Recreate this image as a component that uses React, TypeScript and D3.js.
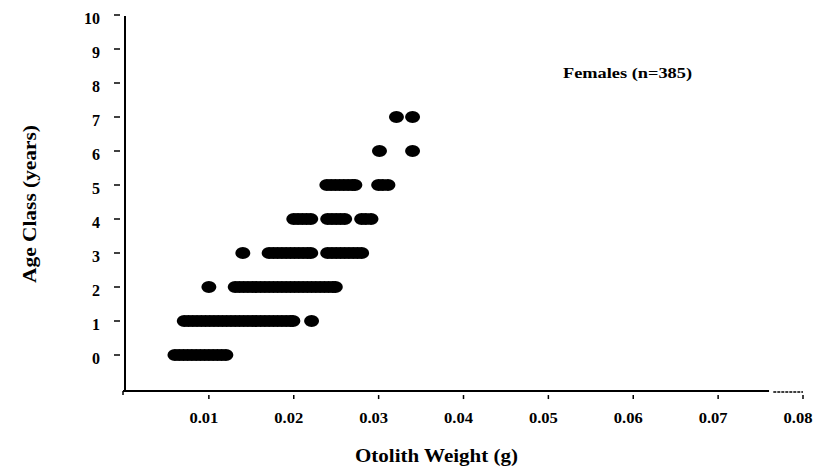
import * as d3 from "d3";

// otolith weights (g), one array per age class
const age0 = [0.006, 0.0065, 0.007, 0.0075, 0.008, 0.0085, 0.009, 0.0095, 0.01, 0.0105, 0.011, 0.0115, 0.012];
const age1 = [
  0.0071, 0.0076, 0.0081, 0.0086, 0.0091, 0.0096, 0.0101, 0.0106, 0.0111, 0.0116, 0.0121, 0.0126, 0.0131,
  0.0136, 0.0141, 0.0146, 0.0151, 0.0156, 0.0161, 0.0166, 0.0171, 0.0176, 0.0181, 0.0186, 0.0191, 0.0196,
  0.0199, 0.0221,
];
const age2 = [
  0.01, 0.0131, 0.0136, 0.0141, 0.0146, 0.0151, 0.0156, 0.0161, 0.0166, 0.0171, 0.0176, 0.0181, 0.0186,
  0.0191, 0.0196, 0.0201, 0.0206, 0.0211, 0.0216, 0.0221, 0.0226, 0.0231, 0.0236, 0.0241, 0.0246, 0.0249,
];
const age3 = [
  0.014, 0.0171, 0.0176, 0.0181, 0.0186, 0.0191, 0.0196, 0.0201, 0.0206, 0.0211, 0.0216, 0.022, 0.024,
  0.0245, 0.025, 0.0255, 0.026, 0.0265, 0.027, 0.0275, 0.028,
];
const age4 = [0.02, 0.0205, 0.021, 0.0215, 0.022, 0.024, 0.0245, 0.025, 0.0255, 0.026, 0.028, 0.0285, 0.0291];
const age5 = [0.0239, 0.0244, 0.0249, 0.0254, 0.0259, 0.0264, 0.0269, 0.0272, 0.03, 0.0305, 0.0311];
const age6 = [0.0301, 0.034];
const age7 = [0.0321, 0.034];

const ageGroups = [age0, age1, age2, age3, age4, age5, age6, age7];
const yTicks = [0, 1, 2, 3, 4, 5, 6, 7, 8, 9, 10];
const xTicks = [0.01, 0.02, 0.03, 0.04, 0.05, 0.06, 0.07, 0.08];

const W = 814;
const H = 470;
const font = "'Liberation Serif', 'DejaVu Serif', serif";

export default function App() {
  const x = d3.scaleLinear().domain([0, 0.08]).range([124, 803]);
  const y = d3.scaleLinear().domain([0, 10]).range([355, 15]);
  const bottom = y(-1.06);
  const fmt = d3.format(".2f");

  const points = ageGroups.flatMap((ws, age) => ws.map((w) => ({ w, age })));

  return (
    <svg
      width={W}
      height={H}
      style={{ position: "absolute", left: 0, top: 0, background: "#fff", fontFamily: font, fontWeight: 700 }}
    >
      {/* y axis */}
      <line x1={125} x2={125} y1={y(10) + 1} y2={bottom + 1} stroke="#000" strokeWidth={2} />
      {yTicks.map((t) => (
        <g key={t}>
          <line x1={114} x2={120} y1={y(t)} y2={y(t)} stroke="#000" strokeWidth={1.5} />
          <text x={100} y={y(t) + 9} textAnchor="end" fontSize={16}>
            {t}
          </text>
        </g>
      ))}

      {/* x axis */}
      <line x1={x(0) - 1} x2={x(0.076)} y1={bottom} y2={bottom} stroke="#000" strokeWidth={2} />
      <line
        x1={x(0.0765)}
        x2={x(0.08)}
        y1={bottom + 1}
        y2={bottom + 1}
        stroke="#000"
        strokeWidth={1.5}
        strokeDasharray="3 1"
      />
      <line x1={x(0) - 1} x2={x(0) - 1} y1={bottom} y2={bottom + 4} stroke="#000" strokeWidth={1.5} />
      {xTicks.map((t) => (
        <g key={t}>
          <line x1={x(t)} x2={x(t)} y1={bottom + 4} y2={bottom + 8} stroke="#000" strokeWidth={1.5} />
          <text
            x={x(t) - 5}
            y={423}
            textAnchor="middle"
            fontSize={15}
            textLength={29}
            lengthAdjust="spacingAndGlyphs"
          >
            {fmt(t)}
          </text>
        </g>
      ))}

      {/* points */}
      <g fill="#000">
        {points.map((p, i) => (
          <ellipse key={i} cx={x(p.w)} cy={y(p.age)} rx={7.5} ry={6} />
        ))}
      </g>

      <text x={563} y={78} fontSize={14} textLength={129} lengthAdjust="spacingAndGlyphs">
        Females (n=385)
      </text>
      <text x={355} y={462} fontSize={18} textLength={163} lengthAdjust="spacingAndGlyphs">
        Otolith Weight (g)
      </text>
      <text
        transform="translate(36,283) rotate(-90)"
        fontSize={18}
        textLength={158}
        lengthAdjust="spacingAndGlyphs"
      >
        Age Class (years)
      </text>
    </svg>
  );
}
